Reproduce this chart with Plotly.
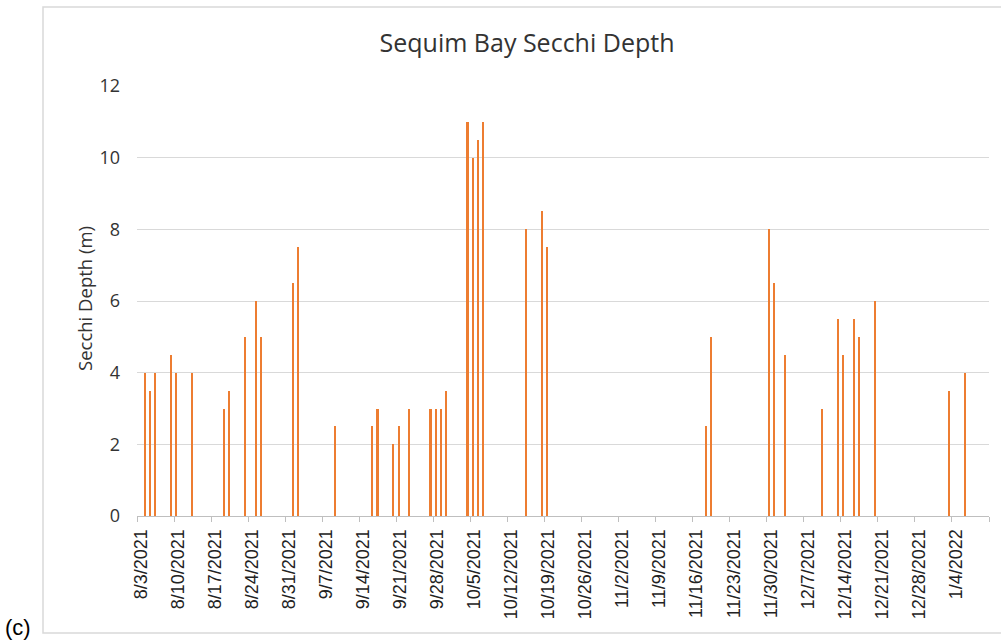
import pandas as pd
import plotly.graph_objects as go

# Secchi depth readings, Sequim Bay
dates = [
    "2021-08-04", "2021-08-05", "2021-08-06", "2021-08-09", "2021-08-10", "2021-08-13",
    "2021-08-19", "2021-08-20", "2021-08-23", "2021-08-25", "2021-08-26",
    "2021-09-01", "2021-09-02", "2021-09-09",
    "2021-09-16", "2021-09-17", "2021-09-20", "2021-09-21", "2021-09-23",
    "2021-09-27", "2021-09-28", "2021-09-29", "2021-09-30",
    "2021-10-04", "2021-10-05", "2021-10-06", "2021-10-07",
    "2021-10-15", "2021-10-18", "2021-10-19",
    "2021-11-18", "2021-11-19",
    "2021-11-30", "2021-12-01", "2021-12-03",
    "2021-12-10", "2021-12-13", "2021-12-14", "2021-12-16", "2021-12-17", "2021-12-20",
    "2022-01-03", "2022-01-06",
]
depth_m = [
    4, 3.5, 4, 4.5, 4, 4,
    3, 3.5, 5, 6, 5,
    6.5, 7.5, 2.5,
    2.5, 3, 2, 2.5, 3,
    3, 3, 3, 3.5,
    11, 10, 10.5, 11,
    8, 8.5, 7.5,
    2.5, 5,
    8, 6.5, 4.5,
    3, 5.5, 4.5, 5.5, 5, 6,
    3.5, 4,
]

axis_start = "2021-08-03"
axis_end = "2022-01-11"
week_ticks = pd.date_range(axis_start, axis_end, freq="7D")
week_labels = [f"{d.month}/{d.day}/{d.year}" if d < pd.Timestamp(axis_end) else "" for d in week_ticks]

DAY_MS = 86400000
ORANGE = "#ED7D31"
GRID = "#d9d9d9"
TEXT = "#333333"

fig = go.Figure()
fig.add_trace(go.Bar(
    x=dates,
    y=depth_m,
    xperiod=DAY_MS,
    xperiodalignment="middle",
    width=0.3 * DAY_MS,
    marker=dict(color=ORANGE, line=dict(width=0)),
    showlegend=False,
))

L, R, T, B = 137, 12, 86, 124
W, H = 1001, 640
pw, ph = W - L - R, H - T - B


def px_x(p):
    return (p - L) / pw


def px_y(p):
    return (H - B - p) / ph


fig.update_layout(
    width=W,
    height=H,
    margin=dict(l=L, r=R, t=T, b=B),
    paper_bgcolor="white",
    plot_bgcolor="white",
    bargap=0,
    title=dict(
        text="Sequim Bay Secchi Depth",
        font=dict(family="Open Sans", size=25, color=TEXT),
        x=px_x(527), xref="paper", xanchor="center",
        y=1 - 43 / H, yref="container", yanchor="middle",
    ),
    xaxis=dict(
        type="date",
        range=[axis_start, axis_end],
        tickmode="array",
        tickvals=week_ticks,
        ticktext=week_labels,
        tickangle=-90,
        ticks="outside",
        ticklen=5,
        tickcolor="#bfbfbf",
        ticklabelshift=4,
        tickfont=dict(family="Liberation Sans", size=18, color="#222222"),
        showline=True,
        linecolor="#bfbfbf",
        linewidth=1,
        showgrid=False,
        zeroline=False,
    ),
    yaxis=dict(
        range=[0, 12],
        dtick=2,
        showgrid=True,
        gridcolor=GRID,
        gridwidth=1,
        zeroline=False,
        showline=False,
        ticklabelstandoff=16,
        tickfont=dict(family="Open Sans", size=18, color=TEXT),
    ),
    shapes=[
        dict(
            type="rect", xref="paper", yref="paper",
            x0=px_x(43), x1=px_x(1010), y0=px_y(633), y1=px_y(7),
            line=dict(color=GRID, width=1.5), layer="below",
        )
    ],
    annotations=[
        dict(
            text="Secchi Depth (m)", textangle=-90,
            xref="paper", yref="paper", x=px_x(84), y=px_y(299),
            xanchor="center", yanchor="middle", showarrow=False,
            font=dict(family="Open Sans", size=18.5, color=TEXT),
        ),
        dict(
            text="(c)",
            xref="paper", yref="paper", x=px_x(18), y=px_y(627),
            xanchor="center", yanchor="middle", showarrow=False,
            font=dict(family="Liberation Sans", size=22, color="#000000"),
        ),
    ],
)

fig.write_html("out.html")
